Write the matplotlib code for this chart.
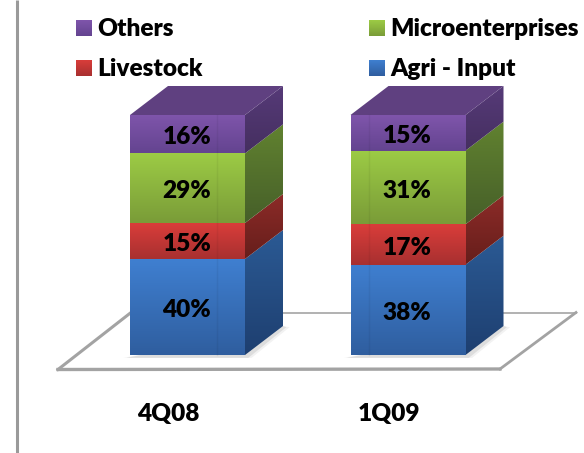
import matplotlib
matplotlib.use('Agg')
import matplotlib.pyplot as plt
from matplotlib.patches import Polygon
import numpy as np
from matplotlib.colors import LinearSegmentedColormap

categories = ['4Q08', '1Q09']
series_names = ['Agri - Input', 'Livestock', 'Microenterprises', 'Others']
agri_input = [40, 38]
livestock = [15, 17]
microenterprises = [29, 31]
others = [16, 15]

# top / bottom shades of each segment: front face, then side face
front_colors = [('#3F7FD0', '#2F5E9F'), ('#D93D3A', '#A83030'),
                ('#9CCB45', '#7A9C38'), ('#7F55AB', '#644490')]
side_colors = [('#2B5A94', '#1E3F70'), ('#8C2B28', '#661E1B'),
               ('#618230', '#465F29'), ('#563A78', '#452F60')]
top_color = '#5F4080'

W, H = 584, 453
BAR_W = 115 / 220.5
DX = 38 / 220.5
DY = 29 / 2.4
FS = 17.6


def gradient_poly(ax, pts, c_top, c_bottom, zorder=2):
    pts = np.array(pts)
    # row 0 sits at the low end of the y range
    if ax.yaxis_inverted():
        colors = [c_top, c_bottom]
    else:
        colors = [c_bottom, c_top]
    cmap = LinearSegmentedColormap.from_list('g', colors)
    grad = np.linspace(0, 1, 64).reshape(-1, 1)
    lims = ax.get_xlim(), ax.get_ylim()
    ext = [pts[:, 0].min(), pts[:, 0].max(), pts[:, 1].min(), pts[:, 1].max()]
    im = ax.imshow(grad, cmap=cmap, extent=ext, origin='lower', aspect='auto',
                   zorder=zorder, interpolation='bilinear')
    patch = Polygon(pts, closed=True, transform=ax.transData, fc='none', ec='none')
    ax.add_patch(patch)
    im.set_clip_path(patch)
    ax.set_xlim(lims[0])
    ax.set_ylim(lims[1])


fig = plt.figure(figsize=(W / 100, H / 100), dpi=100)
plt.rcParams['font.family'] = ['Lato', 'DejaVu Sans']

# pixel-space layer for the frame line, floor and legend
bg = fig.add_axes([0, 0, 1, 1])
bg.set_xlim(0, W)
bg.set_ylim(H, 0)
bg.axis('off')
bg.plot([17, 17], [0, H], color='#9A9A9A', lw=2.2, solid_capstyle='butt')
bg.plot([131, 576], [312.5, 312.5], color='#ABABAB', lw=1.3)
bg.plot([576, 500], [312.5, 369], color='#A3A3A3', lw=2.0)
bg.plot([58, 500], [369.5, 369], color='#A3A3A3', lw=2.4)
bg.plot([58, 131], [369.5, 312.5], color='#A3A3A3', lw=2.2)

# legend, filled by column
swatches = [(76, 20), (76, 60), (369, 20), (369, 60)]
legend_order = [3, 1, 2, 0]
for (sx, sy), k in zip(swatches, legend_order):
    gradient_poly(bg, [(sx, sy), (sx + 15.5, sy), (sx + 15.5, sy + 16), (sx, sy + 16)],
                  front_colors[k][0], front_colors[k][1])
    bg.text(sx + 21, sy + 9.5, series_names[k], fontsize=FS, fontweight=800,
            va='center', ha='left', color='black')

# stacked bars, normalised to 100 like a percent-stacked chart
ax = fig.add_axes([0, 0, 1, 1])
ax.patch.set_alpha(0)
ax.axis('off')
ax.set_xlim(-187.5 / 220.5, (W - 187.5) / 220.5)
ax.set_ylim(-(H - 355) / 2.4, 355 / 2.4)

stack = np.array([agri_input, livestock, microenterprises, others], dtype=float)
for i, cat in enumerate(categories):
    xl, xr = i - BAR_W / 2, i + BAR_W / 2
    total = stack[:, i].sum()

    # soft contact shadow under the bar
    for grow, alpha in [(0.03, 0.10), (0.015, 0.18)]:
        ax.add_patch(Polygon([(xl - grow, -1.2), (xr + grow, -1.2),
                              (xr + DX + grow, DY - 0.5), (xr + DX, DY)],
                             closed=True, fc='#808080', ec='none', alpha=alpha, zorder=1))

    base = 0
    for k in range(len(series_names)):
        h = stack[k, i] / total * 100
        y0, y1 = base, base + h
        gradient_poly(ax, [(xl, y0), (xr, y0), (xr, y1), (xl, y1)], *front_colors[k])
        gradient_poly(ax, [(xr, y0), (xr + DX, y0 + DY), (xr + DX, y1 + DY), (xr, y1)],
                      *side_colors[k])
        ax.annotate('%d%%' % stack[k, i], (i, (y0 + y1) / 2), xytext=(-0.5, -2.2),
                    textcoords='offset points', fontsize=FS, fontweight=800,
                    ha='center', va='center', color='black', zorder=5)
        base = y1
    ax.add_patch(Polygon([(xl, 100), (xr, 100), (xr + DX, 100 + DY), (xl + DX, 100 + DY)],
                         closed=True, fc=top_color, ec='none', zorder=2))
    # faint seam on the front face
    ax.plot([i + 0.134 - 0.311 * i] * 2, [0, 100], color='black', alpha=0.05, lw=1, zorder=3)
    ax.annotate(cat, (i, 0), xytext=(-13.7, -42.3), textcoords='offset points',
                fontsize=FS, fontweight=800, ha='center', va='center', color='black')

fig.savefig('out.png', dpi=100)
